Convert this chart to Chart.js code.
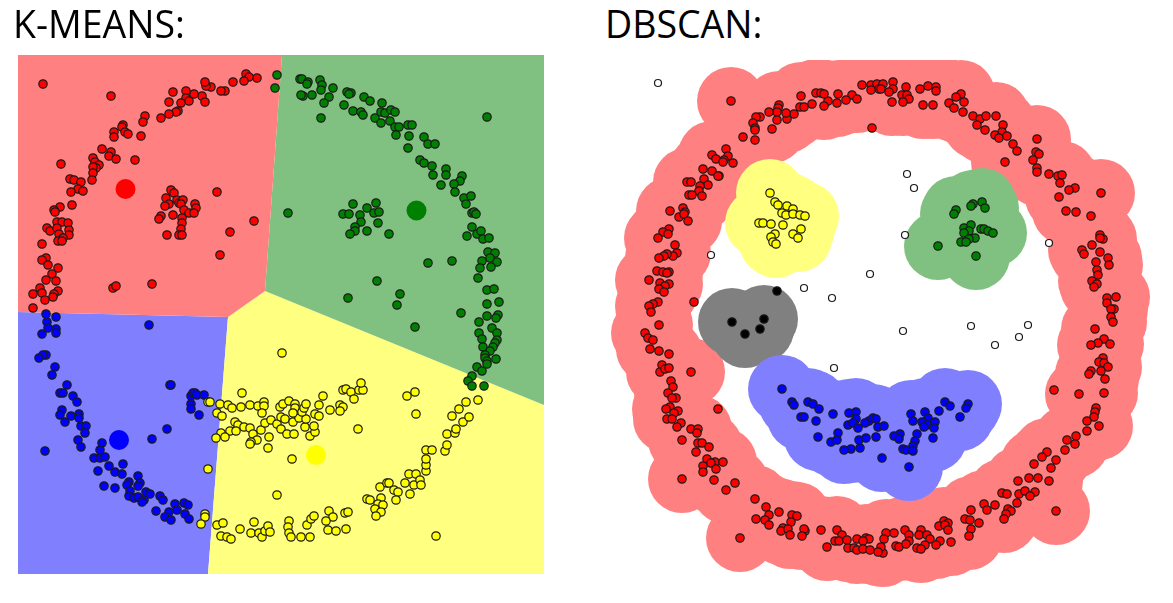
<!DOCTYPE html>
<html>
<head>
<meta charset="utf-8">
<title>K-Means vs DBSCAN</title>
<script src="https://cdn.jsdelivr.net/npm/chart.js@4/dist/chart.umd.min.js"></script>
<style>
    html, body { margin: 0; padding: 0; background: #fff; overflow: hidden; }
    body { position: relative; width: 1173px; height: 603px; }
    canvas { position: absolute; }
    #kmeansChart { left: 0; top: 0; }
    #dbscanChart { left: 586px; top: 60px; }
    h2 {
        position: absolute;
        margin: 0;
        font: 400 37.5px/44px "Open Sans", sans-serif;
        color: #000;
        z-index: 2;
    }
    #kmeansTitle { left: 13px; top: 2px; }
    #dbscanTitle { left: 605px; top: 2px; }
</style>
</head>
<body>
<h2 id="kmeansTitle">K-MEANS:</h2>
<h2 id="dbscanTitle">DBSCAN:</h2>
<canvas id="kmeansChart" width="586" height="603"></canvas>
<canvas id="dbscanChart" width="587" height="543"></canvas>
<script>
// ----------------- K-Means data -----------------
const kmRegionRed = [[18,55],[282,55],[265,291],[228,317],[18,312]];
const kmRegionGreen = [[282,55],[544,55],[544,405],[265,291]];
const kmRegionYellow = [[265,291],[544,405],[544,574],[208,574],[228,317]];
const kmRegionBlue = [[18,312],[228,317],[208,574],[18,574]];

const kmCentroids = [[125.5,189],[416.5,210.5],[119,440],[316,455]];

const kmRed = [[43,84],[111,96],[246,74],[257,78],[249,77],[244,81],[233,82],[225,91],[221,91],[211,87],[206,86],[205,82],[202,96],[205,102],[194,94],[186,91],[186,98],[189,101],[181,103],[173,92],[169,102],[178,111],[176,112],[169,114],[161,118],[145,116],[143,122],[141,136],[123,125],[122,127],[125,132],[128,134],[114,132],[114,137],[102,149],[111,152],[109,156],[116,159],[135,160],[93,158],[95,162],[99,165],[96,168],[93,167],[93,173],[92,180],[61,164],[70,179],[74,180],[81,182],[78,189],[83,191],[71,192],[72,205],[60,207],[54,210],[55,212],[47,228],[50,231],[57,222],[62,222],[68,223],[57,228],[69,230],[69,235],[59,234],[63,238],[58,241],[62,241],[42,244],[46,258],[42,260],[48,265],[58,268],[52,274],[46,280],[56,281],[40,288],[33,294],[42,293],[58,291],[54,294],[53,297],[45,300],[33,308],[113,288],[116,286],[152,284],[171,190],[174,193],[166,198],[169,204],[165,206],[177,200],[179,203],[183,200],[181,204],[195,204],[196,208],[184,210],[189,213],[194,213],[173,215],[161,216],[159,219],[182,218],[182,223],[181,229],[167,235],[179,235],[182,235],[217,192],[254,221],[230,232],[220,255]];

const kmGreen = [[277,75],[275,88],[300,79],[302,79],[308,82],[307,84],[320,80],[322,85],[321,90],[333,88],[329,97],[312,95],[303,96],[301,95],[324,103],[321,118],[344,105],[347,92],[351,93],[349,94],[364,97],[370,101],[382,103],[353,111],[361,112],[363,115],[375,118],[381,112],[385,113],[391,110],[395,112],[390,121],[381,123],[395,127],[399,127],[408,125],[412,125],[409,136],[396,135],[408,148],[424,137],[428,144],[435,144],[420,160],[424,163],[432,166],[446,169],[433,175],[446,175],[462,176],[460,181],[454,184],[441,185],[455,192],[464,198],[471,196],[466,204],[472,213],[474,212],[476,214],[472,227],[467,236],[477,234],[481,231],[483,239],[489,238],[488,252],[495,253],[490,258],[482,261],[497,262],[480,268],[491,267],[478,278],[487,290],[494,289],[499,302],[487,304],[498,315],[487,316],[496,318],[479,322],[492,328],[497,333],[479,333],[482,339],[497,340],[495,343],[483,347],[493,347],[490,351],[485,355],[485,358],[496,359],[487,361],[487,364],[477,367],[482,371],[472,376],[468,381],[472,386],[484,386],[487,117],[461,313],[452,261],[428,263],[377,281],[348,298],[400,294],[397,305],[415,327],[288,213],[353,204],[376,203],[343,214],[349,214],[367,208],[360,215],[374,213],[379,212],[361,222],[378,223],[355,227],[355,231],[350,234],[367,231],[389,234]];

const kmBlue = [[46,314],[56,317],[47,322],[48,328],[56,329],[56,333],[42,334],[149,325],[46,355],[43,355],[39,358],[55,367],[52,375],[67,385],[60,393],[63,393],[73,396],[77,402],[62,410],[60,415],[71,416],[79,414],[79,418],[65,422],[81,426],[86,426],[85,433],[78,440],[81,447],[45,451],[102,443],[100,450],[94,458],[100,458],[105,457],[123,464],[109,466],[115,472],[122,474],[98,471],[104,486],[115,488],[138,476],[140,483],[129,482],[127,485],[138,486],[130,491],[146,492],[150,494],[129,496],[134,498],[138,497],[144,500],[142,502],[160,496],[163,500],[156,511],[175,504],[184,503],[188,505],[177,510],[169,512],[165,517],[171,520],[185,514],[189,519],[170,385],[171,385],[167,429],[152,439],[191,396],[193,393],[195,393],[197,395],[204,395],[191,404],[191,409],[199,415]];

const kmYellow = [[282,353],[208,402],[210,402],[220,404],[228,405],[232,408],[241,407],[242,393],[250,405],[258,406],[264,402],[264,406],[262,413],[217,413],[222,416],[235,422],[238,425],[244,427],[250,428],[230,431],[236,431],[221,433],[216,438],[225,437],[253,434],[257,440],[251,442],[250,444],[261,430],[265,423],[271,420],[277,424],[281,417],[285,419],[281,429],[269,437],[268,448],[287,434],[294,434],[293,422],[299,418],[305,427],[306,419],[310,436],[315,432],[314,426],[315,414],[319,416],[280,407],[283,404],[289,401],[295,404],[295,408],[293,413],[302,412],[304,408],[306,404],[319,405],[323,396],[330,410],[340,405],[343,407],[340,411],[343,390],[346,389],[351,392],[354,399],[359,390],[363,390],[361,383],[292,459],[358,429],[407,396],[415,392],[416,414],[277,495],[208,469],[205,514],[205,517],[201,524],[217,525],[223,523],[221,536],[227,537],[231,539],[240,529],[254,522],[251,533],[259,533],[262,537],[265,531],[268,526],[270,532],[289,521],[288,527],[289,533],[291,537],[301,537],[310,537],[307,525],[311,519],[314,516],[329,511],[333,517],[326,521],[328,530],[336,531],[346,529],[345,513],[348,512],[367,499],[370,500],[381,498],[378,504],[383,505],[375,509],[381,512],[376,516],[380,487],[387,483],[389,483],[394,490],[398,492],[396,500],[405,483],[414,485],[410,494],[409,474],[416,474],[420,480],[421,485],[426,471],[426,465],[426,459],[426,450],[432,450],[445,451],[447,445],[447,434],[455,433],[456,429],[463,422],[469,417],[452,416],[459,409],[466,402],[478,400],[436,536]];

// ----------------- DBSCAN data -----------------
const dbRed = [[731,101],[862,85],[871,85],[877,84],[879,89],[871,90],[852,95],[857,99],[846,100],[838,94],[837,103],[828,101],[824,106],[816,93],[821,93],[824,94],[812,104],[801,96],[800,107],[804,107],[794,114],[787,119],[786,113],[779,105],[778,108],[777,112],[769,112],[777,120],[772,129],[760,117],[756,117],[753,123],[755,128],[755,130],[755,140],[743,137],[726,149],[728,156],[712,155],[716,159],[724,160],[723,162],[733,163],[703,169],[712,171],[719,176],[718,176],[704,179],[687,182],[691,182],[708,185],[700,186],[699,191],[689,195],[692,195],[702,196],[683,208],[685,212],[670,211],[679,217],[684,214],[688,221],[669,229],[663,232],[668,234],[658,238],[675,245],[677,253],[673,256],[667,254],[664,256],[659,258],[657,271],[663,272],[669,272],[667,273],[649,280],[660,283],[669,284],[665,286],[659,289],[664,292],[658,302],[653,304],[649,306],[651,312],[659,325],
    [883,84],[893,82],[893,89],[881,89],[889,92],[906,87],[920,89],[928,86],[936,87],[936,91],[902,95],[907,95],[909,99],[903,102],[892,102],[923,105],[933,105],[961,94],[956,97],[964,102],[949,103],[954,108],[963,112],[973,116],[980,119],[986,116],[996,116],[1003,125],[977,125],[985,130],[1002,132],[995,135],[999,138],[1007,136],[1013,144],[1017,151],[1005,162],[1037,139],[1036,152],[1039,154],[1033,160],[1037,168],[1037,172],[1049,174],[1058,176],[1062,175],[1060,183],[1075,188],[1069,190],[1101,193],[1059,197],[1066,211],[1076,212],[1091,216],[1100,235],[1092,245],[1103,239],[1100,238],[1082,250],[1084,254],[1100,252],[1108,258],[1109,265],[1096,262],[1097,270],[1098,275],[1092,281],[1097,284],[1094,287],[1107,298],[1116,297],[1107,303],[1114,309],[1111,309],[1111,317],[1113,322],[1095,329],
    [1104,339],[1110,344],[1098,343],[1091,345],[1103,358],[1099,362],[1104,363],[1108,367],[1101,371],[1091,371],[1089,374],[1105,379],[1079,394],[1104,393],[1096,408],[1095,412],[1094,417],[1087,421],[1099,426],[1087,431],[1076,436],[1067,440],[1075,444],[1065,450],[1047,452],[1042,457],[1056,460],[1034,464],[1051,468],[1029,478],[1038,478],[1018,481],[1049,481],[1002,493],[1007,494],[1019,494],[1025,491],[1035,492],[1030,496],[1017,503],[984,504],[995,505],[987,510],[971,510],[1008,509],[1011,511],[1006,514],[1004,519],[1056,511],[965,519],[970,520],[979,523],[944,521],[948,523],[939,526],[945,525],[948,530],[971,529],[969,536],[905,530],[886,533],[894,533],[909,535],[921,530],[919,535],[927,535],[930,539],[909,541],[940,541],[951,542],[884,539],[896,546],[899,547],[906,544],[925,545],[936,545],[917,548],[921,549],[883,553],[881,547],
    [645,333],[648,338],[653,340],[650,349],[659,351],[669,354],[662,365],[660,372],[665,369],[669,368],[691,372],[671,381],[673,387],[668,393],[676,398],[672,398],[670,407],[666,409],[678,411],[674,413],[667,419],[672,419],[681,423],[677,427],[691,429],[698,429],[697,433],[682,440],[698,443],[702,443],[709,447],[696,452],[707,459],[715,462],[723,462],[711,463],[703,466],[716,469],[703,472],[682,479],[714,480],[735,483],[726,490],[755,499],[766,507],[769,515],[779,512],[792,515],[797,516],[756,519],[765,520],[769,525],[791,522],[783,528],[781,531],[788,529],[790,535],[805,531],[804,529],[802,536],[821,530],[837,530],[842,535],[835,541],[839,541],[847,540],[857,539],[866,538],[869,539],[863,541],[827,547],[848,548],[854,548],[857,550],[863,549],[870,550],[878,552],[740,538]];

// red points on the inner edge of the ring, they have no halo of their own
const dbRedEdge = [[872,128],[694,302],[718,409],[1054,390]];

const dbBlue = [[782,389],[792,402],[794,405],[808,402],[813,404],[819,409],[801,417],[804,417],[816,421],[833,414],[849,413],[856,412],[856,419],[869,421],[865,423],[873,418],[876,419],[848,425],[853,423],[858,428],[878,427],[838,433],[818,437],[831,442],[837,440],[859,440],[866,438],[876,437],[860,448],[851,449],[844,450],[884,426],[945,402],[950,406],[968,404],[966,408],[960,417],[911,414],[913,421],[925,412],[939,411],[928,418],[922,422],[935,422],[927,425],[934,428],[924,427],[917,434],[900,434],[894,436],[899,439],[933,438],[915,441],[913,446],[903,449],[906,450],[913,451],[882,458],[909,467]];

const dbGreen = [[956,210],[954,214],[982,202],[973,204],[971,206],[985,208],[964,228],[971,225],[969,231],[964,233],[981,229],[984,229],[988,231],[993,233],[975,238],[969,239],[961,242],[966,242],[938,246],[976,256]];

const dbYellow = [[770,193],[775,202],[778,205],[787,206],[793,209],[782,213],[786,215],[793,214],[800,215],[805,216],[759,223],[763,223],[771,224],[783,225],[801,229],[793,234],[798,238],[775,234],[771,237],[773,242],[776,244]];

// black cluster: the first four are core points, the last one has no halo of its own
const dbBlackCore = [[732,322],[764,319],[760,329],[745,334]];
const dbBlackEdge = [[777,291]];

const dbNoise = [[658,83],[711,255],[804,288],[832,298],[870,274],[907,174],[914,188],[905,235],[1049,243],[971,326],[1028,325],[903,331],[834,368],[995,345],[1019,337]];

// ----------------- Helpers -----------------
const toPoints = list => list.map(p => ({ x: p[0], y: p[1] }));

function region(list, color) {
    return {
        data: toPoints(list),
        showLine: true,
        fill: 'shape',
        backgroundColor: color,
        borderWidth: 0,
        pointRadius: 0,
        order: 10
    };
}

function halo(list, color, order) {
    return {
        data: toPoints(list),
        backgroundColor: color,
        borderWidth: 0,
        pointRadius: 34,
        order: order
    };
}

function dots(list, color, radius) {
    return {
        data: toPoints(list),
        backgroundColor: color,
        borderColor: '#1a1a1a',
        borderWidth: 1.2,
        pointRadius: radius || 4.2,
        order: 1
    };
}

function drawChart(id, xMin, xMax, yMin, yMax, datasets) {
    new Chart(document.getElementById(id), {
        type: 'scatter',
        data: { datasets: datasets },
        options: {
            responsive: false,
            animation: false,
            layout: { padding: 0, autoPadding: false },
            scales: {
                x: { type: 'linear', display: false, min: xMin, max: xMax },
                y: { type: 'linear', display: false, min: yMin, max: yMax, reverse: true }
            },
            plugins: {
                legend: { display: false },
                tooltip: { enabled: false }
            }
        }
    });
}

// ----------------- K-Means chart -----------------
drawChart('kmeansChart', 0, 586, 0, 603, [
    region(kmRegionRed, '#ff8080'),
    region(kmRegionGreen, '#80c080'),
    region(kmRegionYellow, '#ffff80'),
    region(kmRegionBlue, '#8080ff'),
    dots(kmRed, '#ff0000'),
    dots(kmGreen, '#008000'),
    dots(kmYellow, '#ffff00'),
    dots(kmBlue, '#0000ff'),
    {
        data: toPoints(kmCentroids),
        backgroundColor: ['#ff0000', '#008000', '#0000ff', '#ffff00'],
        borderWidth: 0,
        pointRadius: 10,
        order: 1
    }
]);

// ----------------- DBSCAN chart -----------------
// the plot is cut off at y = 60, the red ring has a flat top there
drawChart('dbscanChart', 586, 1173, 60, 603, [
    halo(dbRed, '#ff8080', 6),
    halo(dbBlue, '#8080ff', 5),
    halo(dbGreen, '#80c080', 5),
    halo(dbYellow, '#ffff80', 5),
    halo(dbBlackCore, '#808080', 5),
    dots(dbRed, '#ff0000'),
    dots(dbRedEdge, '#ff0000'),
    dots(dbBlue, '#0000ff'),
    dots(dbGreen, '#008000'),
    dots(dbYellow, '#ffff00'),
    dots(dbBlackCore, '#000000'),
    dots(dbBlackEdge, '#000000'),
    dots(dbNoise, '#ffffff', 3.5)
]);
</script>
</body>
</html>
